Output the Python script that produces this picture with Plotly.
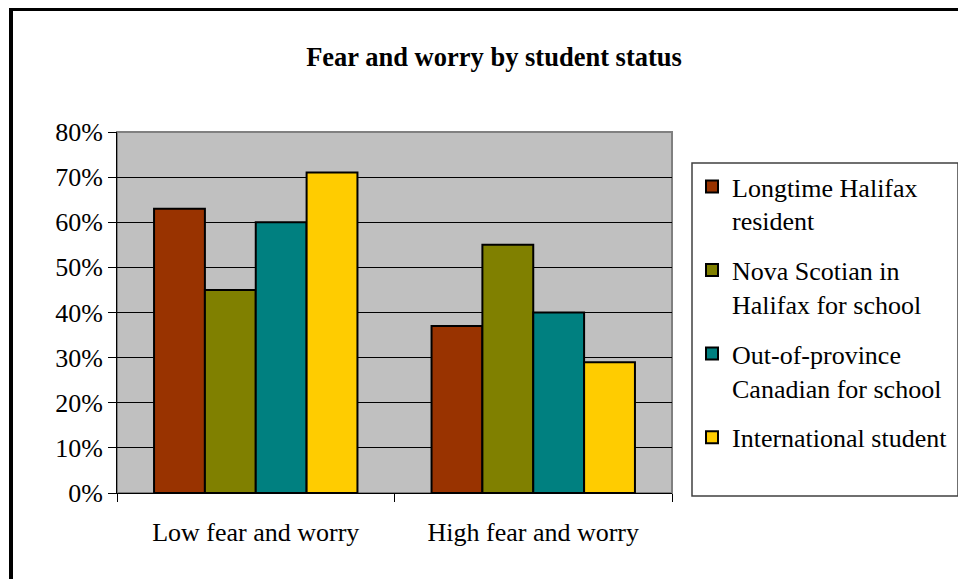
import plotly.graph_objects as go

categories = ["Low fear and worry", "High fear and worry"]
series_names = [
    "Longtime Halifax<br>resident",
    "Nova Scotian in<br>Halifax for school",
    "Out-of-province<br>Canadian for school",
    "International student",
]
series_values = [
    [0.63, 0.37],
    [0.45, 0.55],
    [0.60, 0.40],
    [0.71, 0.29],
]
series_colors = ["#993300", "#808000", "#008080", "#FFCC00"]

# page body has an 8px margin, so the figure is a bit smaller than the window
W, H = 958, 571
L, R, T, B = 109, 664, 124, 485  # plot area in figure pixels


def px_x(x):
    return (x - L) / (R - L)


def px_y(y):
    return (B - y) / (B - T)


serif = "Times New Roman, Liberation Serif, serif"

fig = go.Figure()
for i, (name, vals, col) in enumerate(zip(series_names, series_values, series_colors)):
    fig.add_trace(
        go.Bar(
            x=categories,
            y=vals,
            name=name,
            legendgroup=f"g{i}",
            marker=dict(color=col, line=dict(color="black", width=2)),
        )
    )

shapes = [
    # plot area border (grey)
    dict(type="rect", xref="paper", yref="paper", x0=0, x1=1, y0=0, y1=1,
         line=dict(color="#808080", width=2), layer="below"),
    # legend box
    dict(type="rect", xref="paper", yref="paper",
         x0=px_x(684), x1=px_x(950), y0=px_y(488), y1=px_y(155),
         line=dict(color="#404040", width=1.5)),
    # outer frame (only top and left visible)
    dict(type="rect", xref="paper", yref="paper",
         x0=px_x(3), x1=px_x(1000), y0=px_y(620), y1=px_y(1),
         line=dict(color="black", width=4)),
]

fig.update_layout(
    width=W,
    height=H,
    margin=dict(l=L, r=W - R, t=T, b=H - B),
    paper_bgcolor="white",
    plot_bgcolor="#C0C0C0",
    font=dict(family=serif, size=26, color="black"),
    title=dict(
        text="<b>Fear and worry by student status</b>",
        x=486 / W,
        xanchor="center",
        y=1 - 49 / H,
        yanchor="middle",
        font=dict(family=serif, size=26.5, color="black"),
    ),
    barmode="group",
    bargap=0.267,
    bargroupgap=0,
    showlegend=True,
    legend=dict(
        x=px_x(684),
        xanchor="left",
        y=px_y(155),
        yanchor="top",
        bgcolor="rgba(0,0,0,0)",
        borderwidth=0,
        traceorder="grouped",
        tracegroupgap=13,
        valign="top",
        font=dict(family=serif, size=26),
    ),
    shapes=shapes,
)

fig.update_yaxes(
    range=[0, 0.8],
    dtick=0.1,
    tickformat=".0%",
    showgrid=True,
    gridcolor="black",
    gridwidth=1,
    ticks="outside",
    ticklen=8,
    tickcolor="black",
    showline=True,
    linecolor="black",
    linewidth=1,
    zeroline=False,
)
fig.update_xaxes(
    tickson="boundaries",
    ticks="outside",
    ticklen=8,
    tickcolor="black",
    showline=True,
    linecolor="black",
    linewidth=1,
    ticklabelstandoff=16,
)

fig.write_html("out.html")
